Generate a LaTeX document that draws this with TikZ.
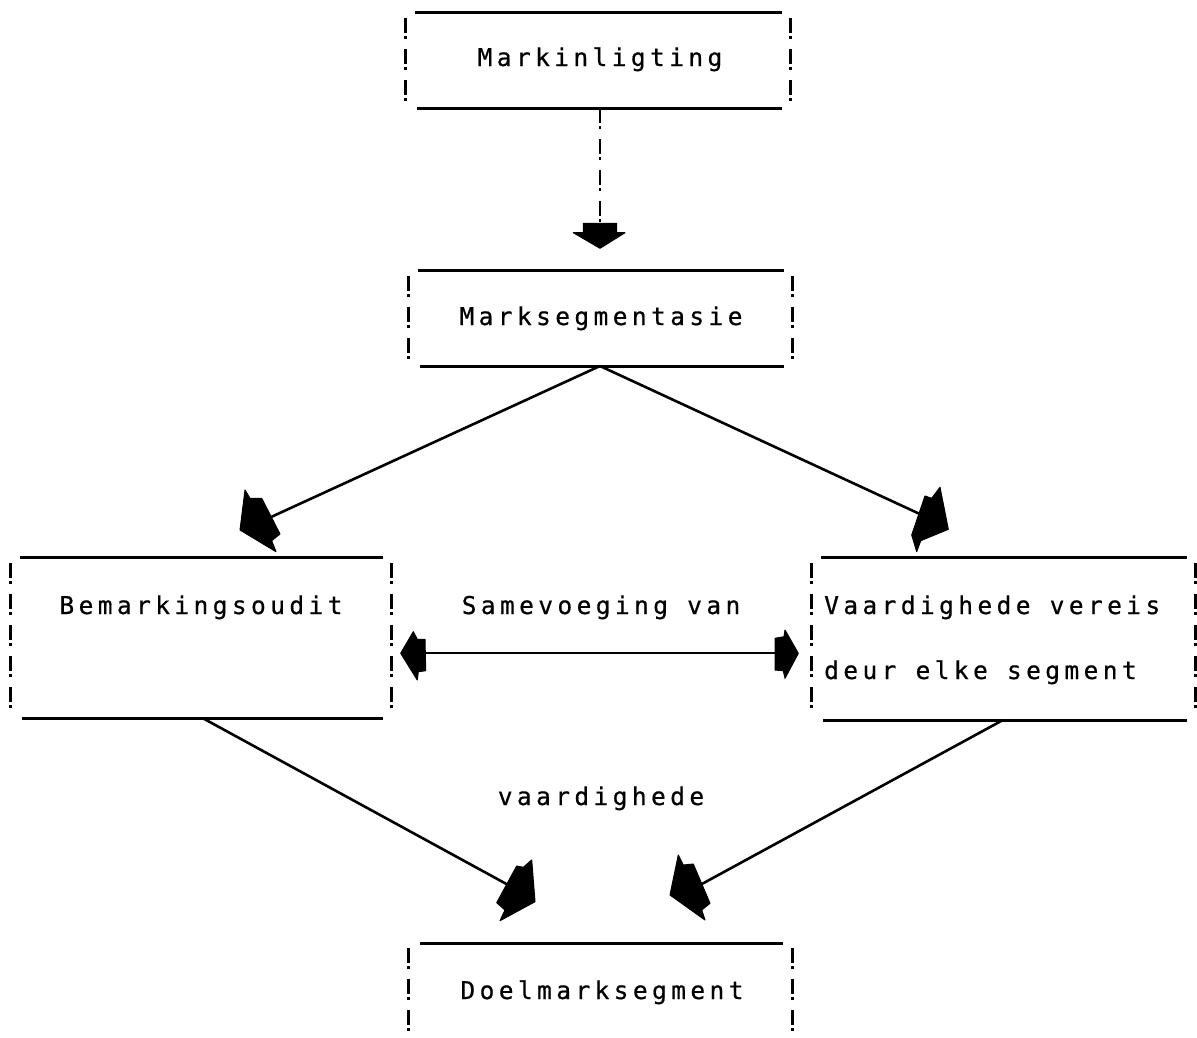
\documentclass[tikz,border=0pt]{standalone}
\usepackage{fontspec}
\newfontfamily\lblfont{DejaVu Sans Mono}[LetterSpace=18,FakeBold=0.6]
\usetikzlibrary{calc}

\begin{document}
\begin{tikzpicture}[x=1pt,y=-1pt,
  frame/.style={draw=none,inner sep=0pt,outer sep=0pt},
  rule/.style={line width=3pt},
  bang/.style={line width=3pt,dash pattern=on 15pt off 3pt on 3pt off 10pt},
  link/.style={line width=2.6pt},
  dlink/.style={line width=2.8pt,dash pattern=on 15pt off 3pt on 3pt off 10pt},
  head/.style={fill=black,draw=black,line width=1pt,line join=round},
  lbl/.style={font=\lblfont\fontsize{24.5}{28}\selectfont,anchor=base,inner sep=0pt}]

% page
\useasboundingbox[fill=white] (0,0) rectangle (1197,1037);

% frames (only anchors; the rules are drawn below)
\node[frame,minimum width=385pt,minimum height=96pt]  (b1) at (597.5,60)  {};
\node[frame,minimum width=384pt,minimum height=96pt]  (b2) at (600,318)   {};
\node[frame,minimum width=381pt,minimum height=161pt] (b3) at (200.5,637.5) {};
\node[frame,minimum width=384pt,minimum height=163pt] (b4) at (1003,638.5) {};
\node[frame,minimum width=384pt,minimum height=96pt]  (b5) at (600,991)   {};

% horizontal rules and "!" sides
\foreach \b in {b1,b2,b3,b4}{
  \draw[rule] ([xshift=10pt]\b.north west) -- ([xshift=-8pt]\b.north east);
  \draw[rule] ([xshift=12pt]\b.south west) -- ([xshift=-8pt]\b.south east);
  \draw[bang] ([yshift=-6pt]\b.north west) -- ([yshift=3pt]\b.south west);
  \draw[bang] ([yshift=-6pt]\b.north east) -- ([yshift=3pt]\b.south east);
}
\draw[rule] ([xshift=12pt]b5.north west) -- ([xshift=-9pt]b5.north east);
\draw[bang] ([yshift=-5pt]b5.north west) -- ++(0,90);
\draw[bang] ([yshift=-5pt]b5.north east) -- ++(0,90);

% labels
\node[lbl] (t1) at (600,66)  {Markinligting};
\node[lbl] (t2) at (601,325) {Marksegmentasie};
\node[lbl] (t3) at (201,614) {Bemarkingsoudit};
\node[lbl,anchor=base west] (t4a) at (824,614) {Vaardighede vereis};
\node[lbl,anchor=base west] (t4b) at (824,679) {deur elke segment};
\node[lbl] (t6) at (601,614) {Samevoeging van};
\node[lbl] (t7) at (601,805) {vaardighede};
\node[lbl] (t5) at (602,999) {Doelmarksegment};

% connector ends
\coordinate (k1) at (600,224);
\coordinate (k2) at (262.6,520.9);
\coordinate (k3) at (927.4,517.5);
\coordinate (k4) at (513.8,888);
\coordinate (k5) at (694.5,888);
\coordinate (m1) at (424,653);
\coordinate (m2) at (776,653);

% connectors
\draw[dlink] (b1.south -| k1) -- (k1);
\draw[link] (b2.south) -- (k2);
\draw[link] (b2.south) -- (k3);
\draw[link] ([xshift=2pt]b3.south) -- (k4);
\draw[link] (b4.south) -- (k5);
\draw[link] (m1) -- (m2);

% arrow heads
\filldraw[head] (600,248.3) -- (625,232.7) -- (616.7,232.7) -- (616.7,223.3)
  -- (583.3,223.3) -- (583.3,232.7) -- (573.3,232.7) -- cycle;
\filldraw[head] (245,490) -- (250,498.3) -- (261.7,498.3) -- (280,534)
  -- (271.7,540.7) -- (276,551.7) -- (240,530) -- cycle;
\filldraw[head] (940,487.3) -- (948.3,529.3) -- (920.7,540.7) -- (916.7,551.7)
  -- (911.7,535) -- (925,496) -- (931.7,498.3) -- cycle;
\filldraw[head] (531.7,860) -- (535,901.7) -- (500,920.7) -- (505,910)
  -- (496.7,902.7) -- (516.7,866) -- (523.3,867.3) -- cycle;
\filldraw[head] (678.3,855) -- (683.3,865) -- (693.3,864) -- (710,903.3)
  -- (701.7,910) -- (705,920) -- (670,895) -- cycle;
\filldraw[head] (400.7,653.3) -- (413.3,631.7) -- (417.3,639.3) -- (425,639.3)
  -- (425.7,670.7) -- (418.3,671.7) -- (417.3,680) -- cycle;
\filldraw[head] (798.3,653.3) -- (785,630) -- (784,636.7) -- (775,638.3)
  -- (775,670) -- (783.3,670.7) -- (785,678.3) -- cycle;
\end{tikzpicture}
\end{document}
